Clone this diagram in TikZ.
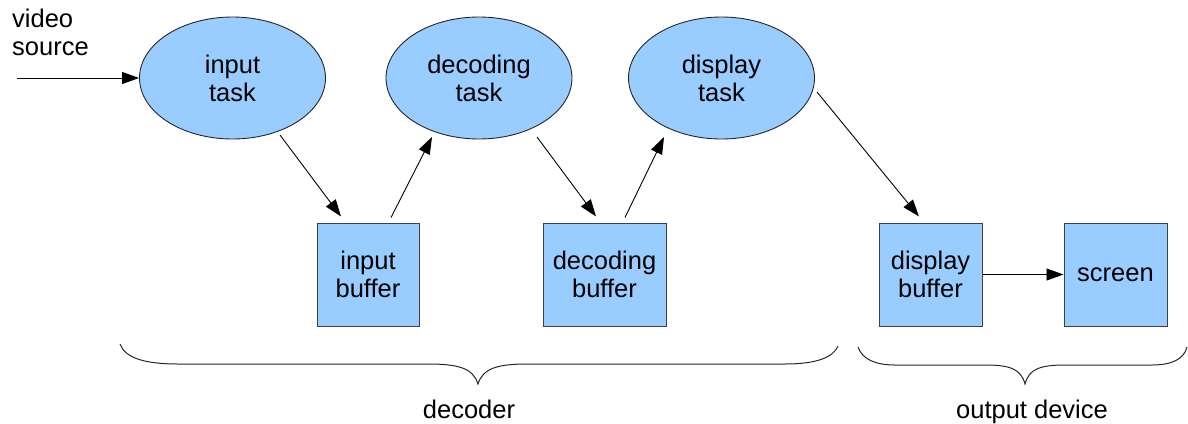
\documentclass[tikz,border=0pt]{standalone}
\usepackage{fontspec}
\setmainfont{Liberation Sans}
\usetikzlibrary{shapes.geometric,arrows.meta,calc}
\definecolor{fillblue}{HTML}{99CCFF}
\begin{document}
\begin{tikzpicture}[x=1pt,y=-1pt,
  every node/.style={font=\fontsize{25.5}{28}\selectfont, inner sep=0pt, align=center},
  taskell/.style={ellipse, draw=black!85, line width=0.9pt, fill=fillblue, minimum width=186pt, minimum height=122pt},
  bufbox/.style={rectangle, draw=black!75, line width=1pt, fill=fillblue, minimum height=103pt},
  arr/.style={-{Triangle[length=17pt,width=12pt]}, line width=0.9pt, black},
  bracepath/.style={line width=1pt, black!85}]
\useasboundingbox (0,0) rectangle (1188,423);

\node[taskell] (it) at (232.5,78) {input\\task};
\node[taskell] (dt) at (479,78) {decoding\\task};
\node[taskell] (pt) at (721.5,78) {display\\task};

\node[bufbox, minimum width=102pt] (ib) at (368,274.5) {input\\buffer};
\node[bufbox, minimum width=123pt] (db) at (604.5,274.5) {decoding\\buffer};
\node[bufbox, minimum width=103pt] (pb) at (930.5,274.5) {display\\buffer};
\node[bufbox, minimum width=103pt] (sc) at (1115.5,274.5) {screen};

\node[anchor=north west, align=left] (vs) at (12,8.5) {video\\source};
\coordinate (vsin) at (17,78);

\draw[arr] (vsin) -- (it.west);
\draw[arr] ($(it.center)+(47.5,57)$) -- ($(ib.north)+(-27,-6)$);
\draw[arr] ($(ib.north)+(23,-5)$) -- ($(dt.center)+(-47,59)$);
\draw[arr] ($(dt.center)+(58,59)$) -- ($(db.north)+(-8.5,-6)$);
\draw[arr] ($(db.north)+(20.5,-5)$) -- ($(pt.center)+(-57.5,59)$);
\draw[arr] ($(pt.center)+(95.5,14)$) -- ($(pb.north)+(-11.5,-6)$);
\draw[arr] (pb.east) -- (sc.west);

% decoder brace
\draw[bracepath] (120,344) .. controls (125,358) and (145,364) .. (178,364)
  -- (428,364) .. controls (458,364) and (473,368) .. (478,384)
  .. controls (483,368) and (498,364) .. (528,364)
  -- (785,364) .. controls (815,364) and (833,358) .. (838,346);
% output device brace
\draw[bracepath] (858,347) .. controls (862,359) and (875,365) .. (895,365)
  -- (985,365) .. controls (1010,365) and (1021,369) .. (1025,384)
  .. controls (1029,369) and (1040,365) .. (1065,365)
  -- (1152,365) .. controls (1172,365) and (1184,359) .. (1187,347);

\node[anchor=base] (declbl) at (469,418) {decoder};
\node[anchor=base] (outlbl) at (1032,418) {output device};
\end{tikzpicture}
\end{document}
